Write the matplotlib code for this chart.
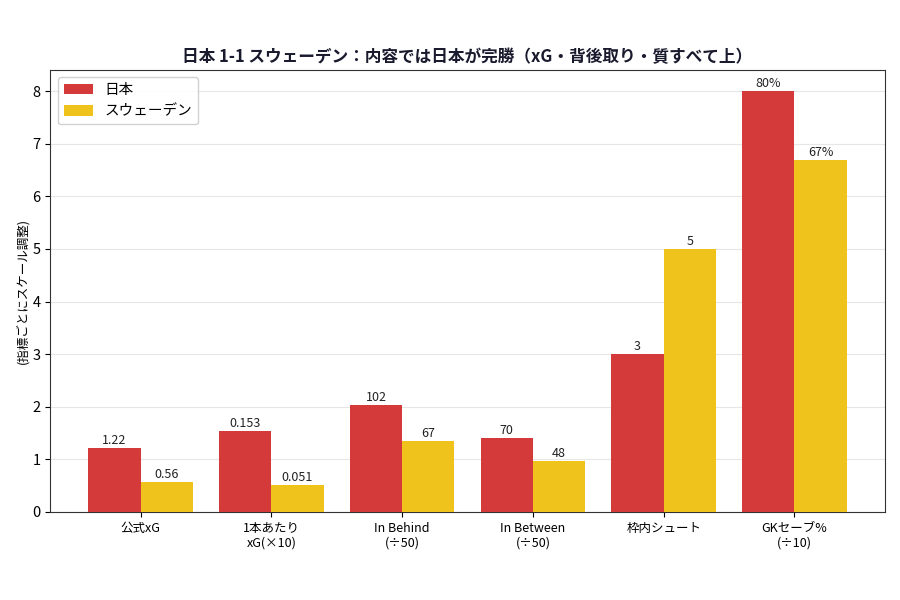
import matplotlib
matplotlib.use("Agg")
import matplotlib.pyplot as plt
import numpy as np

plt.rcParams["font.family"] = ["Noto Sans CJK JP", "DejaVu Sans"]

categories = ["公式xG", "1本あたり\nxG(×10)", "In Behind\n(÷50)", "In Between\n(÷50)", "枠内シュート", "GKセーブ%\n(÷10)"]
japan_scaled = [1.22, 1.53, 2.04, 1.40, 3.0, 8.0]
sweden_scaled = [0.56, 0.51, 1.34, 0.96, 5.0, 6.7]
japan_labels = ["1.22", "0.153", "102", "70", "3", "80%"]
sweden_labels = ["0.56", "0.051", "67", "48", "5", "67%"]

RED = "#D43A3A"
YELLOW = "#F0C31C"

fig, ax = plt.subplots(figsize=(9, 6), dpi=100)
x = np.arange(len(categories))
w = 0.4

b1 = ax.bar(x - w / 2, japan_scaled, w, color=RED, label="日本", zorder=3)
b2 = ax.bar(x + w / 2, sweden_scaled, w, color=YELLOW, label="スウェーデン", zorder=3)

for bars, labels in ((b1, japan_labels), (b2, sweden_labels)):
    for bar, lab in zip(bars, labels):
        ax.text(bar.get_x() + bar.get_width() / 2, bar.get_height() + 0.02, lab,
                ha="center", va="bottom", fontsize=9, color="#222222")

ax.set_xticks(x)
ax.set_xticklabels(categories, fontsize=9)
ax.set_ylim(0, 8.4)
ax.set_yticks(range(0, 9))
ax.tick_params(axis="y", labelsize=10.5)
ax.set_ylabel("(指標ごとにスケール調整)", fontsize=9, labelpad=2)
ax.set_title("日本 1-1 スウェーデン：内容では日本が完勝（xG・背後取り・質すべて上）",
             fontsize=12, fontweight="bold", color="#1a1a2e")
ax.grid(axis="y", color="#e6e6e6", linewidth=0.8, zorder=0)
for s in ax.spines.values():
    s.set_color("#333333")
ax.legend(loc="upper left", fontsize=10.5, framealpha=0.9, edgecolor="#cccccc")

fig.subplots_adjust(left=0.056, right=0.983, top=0.883, bottom=0.147)
fig.savefig("out.png", dpi=100)
